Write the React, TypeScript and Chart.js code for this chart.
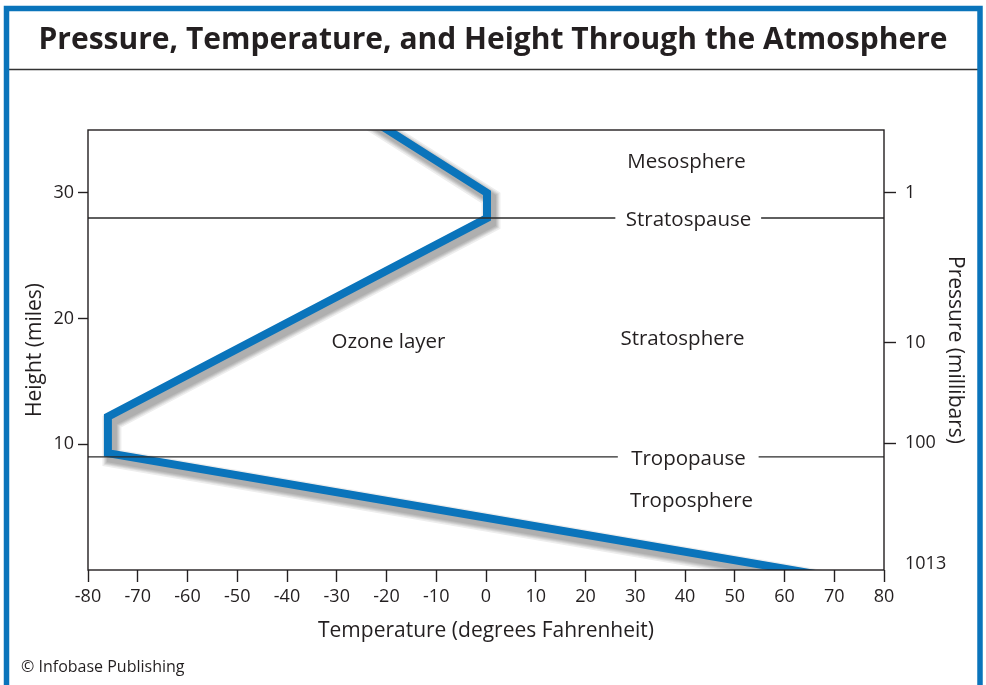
import { useEffect, useRef } from 'react';
import { Chart, registerables } from 'chart.js';

Chart.register(...registerables);

const FONT = "'Open Sans', 'Noto Sans', sans-serif";
const INK = '#231f20';
const BLUE = '#0a74bb';

const TITLE = 'Pressure, Temperature, and Height Through the Atmosphere';
const X_TITLE = 'Temperature (degrees Fahrenheit)';
const Y_TITLE = 'Height (miles)';
const Y2_TITLE = 'Pressure (millibars)';
const CREDIT = '© Infobase Publishing';

// Temperature profile (degrees F) vs height (miles)
const profileTemps = [-23.7, 0.2, 0.2, -76, -76, 68];
const profileHeights = [36, 30, 28.0, 12.2, 9.3, -0.44];

// Left axis ticks (miles)
const heightTicks = [10, 20, 30];

// Right axis: pressure labels and the heights they sit at
const pressureLabels = ['1', '10', '100', '1013'];
const pressureHeights = [30, 18.1, 10.1, 0.45];

// Boundary lines (pauses) with gaps for their labels
const boundaryNames = ['Stratospause', 'Tropopause'];
const boundaryHeights = [28.0, 9.0];
const boundaryGapStart = [26, 26.5];
const boundaryGapEnd = [55.3, 54.8];
const boundaryLabelTemps = [40.7, 40.7];

// Layer labels
const layerNames = ['Mesosphere', 'Ozone layer', 'Stratosphere', 'Troposphere'];
const layerTemps = [40.3, -19.6, 39.5, 41.3];
const layerHeights = [32.6, 18.3, 18.5, 5.65];

const X_MIN = -80;
const X_MAX = 80;
const Y_MIN = 0;
const Y_MAX = 35;

const shadowPlugin = {
  id: 'lineShadow',
  beforeDatasetDraw(chart: any, args: any) {
    const ds = chart.data.datasets[args.index];
    if (!ds || !ds.shadow) return;
    const pts = args.meta.data;
    if (!pts || pts.length < 2) return;
    const ctx = chart.ctx;
    const a = chart.chartArea;
    ctx.save();
    ctx.beginPath();
    ctx.rect(a.left, a.top, a.right - a.left, a.bottom - a.top);
    ctx.clip();
    ctx.lineJoin = 'miter';
    ctx.lineCap = 'butt';
    const widths = [19, 16, 14, 12, 10];
    widths.forEach((w) => {
      ctx.beginPath();
      pts.forEach((p: any, i: number) => {
        if (i === 0) ctx.moveTo(p.x + 4, p.y + 5);
        else ctx.lineTo(p.x + 4, p.y + 5);
      });
      ctx.strokeStyle = 'rgba(0,0,0,0.07)';
      ctx.lineWidth = w;
      ctx.stroke();
    });
    ctx.restore();
  },
};

const decorPlugin = {
  id: 'decor',
  beforeDraw(chart: any) {
    const ctx = chart.ctx;
    ctx.save();
    ctx.fillStyle = '#ffffff';
    ctx.fillRect(0, 0, chart.width, chart.height);
    ctx.restore();
  },
  afterDatasetsDraw(chart: any) {
    const ctx = chart.ctx;
    const xs = chart.scales.x;
    const ys = chart.scales.y;
    ctx.save();
    ctx.fillStyle = INK;
    ctx.font = `20.5px ${FONT}`;
    ctx.textAlign = 'center';
    ctx.textBaseline = 'middle';
    const dy = 2;
    layerNames.forEach((n, i) => {
      ctx.fillText(n, xs.getPixelForValue(layerTemps[i]), ys.getPixelForValue(layerHeights[i]) + dy);
    });
    boundaryNames.forEach((n, i) => {
      ctx.fillText(n, xs.getPixelForValue(boundaryLabelTemps[i]), ys.getPixelForValue(boundaryHeights[i]) + dy);
    });
    ctx.restore();
  },
  afterDraw(chart: any) {
    const ctx = chart.ctx;
    const a = chart.chartArea;
    ctx.save();
    // plot frame
    ctx.strokeStyle = INK;
    ctx.lineWidth = 1.4;
    ctx.strokeRect(a.left, a.top, a.right - a.left, a.bottom - a.top);
    // title separator
    ctx.lineWidth = 1.6;
    ctx.strokeStyle = '#333';
    ctx.beginPath();
    ctx.moveTo(9, 69.5);
    ctx.lineTo(978, 69.5);
    ctx.stroke();
    // blue outer frame
    ctx.strokeStyle = BLUE;
    ctx.lineWidth = 5.5;
    ctx.strokeRect(6.5, 8.5, 973.5, chart.height + 20);
    // credit
    ctx.fillStyle = INK;
    ctx.font = `16px ${FONT}`;
    ctx.textAlign = 'left';
    ctx.textBaseline = 'middle';
    ctx.fillText(CREDIT, 21, 667);
    ctx.restore();
  },
};

function buildDatasets() {
  const profile = {
    label: 'Temperature',
    data: profileTemps.map((t, i) => ({ x: t, y: profileHeights[i] })),
    borderColor: BLUE,
    borderWidth: 8,
    borderJoinStyle: 'miter',
    borderCapStyle: 'butt',
    pointRadius: 0,
    tension: 0,
    clip: 0,
    order: 2,
    shadow: true,
  };
  const bounds = boundaryNames.map((n, i) => ({
    label: n,
    data: [
      { x: X_MIN, y: boundaryHeights[i] },
      { x: boundaryGapStart[i], y: boundaryHeights[i] },
      { x: (boundaryGapStart[i] + boundaryGapEnd[i]) / 2, y: null },
      { x: boundaryGapEnd[i], y: boundaryHeights[i] },
      { x: X_MAX, y: boundaryHeights[i] },
    ],
    borderColor: '#2b2b2b',
    borderWidth: 1.4,
    pointRadius: 0,
    tension: 0,
    spanGaps: false,
    order: 1,
  }));
  return [profile, ...bounds];
}

export default function App() {
  const ref = useRef<HTMLCanvasElement | null>(null);

  useEffect(() => {
    document.body.style.margin = '0';
    const canvas = ref.current;
    if (!canvas) return;
    const chart = new Chart(canvas, {
      type: 'line',
      data: { datasets: buildDatasets() as any },
      plugins: [shadowPlugin, decorPlugin],
      options: {
        animation: false,
        responsive: false,
        maintainAspectRatio: false,
        layout: { padding: 0 },
        plugins: {
          legend: { display: false },
          tooltip: { enabled: false },
          title: {
            display: true,
            text: TITLE,
            color: INK,
            font: { family: FONT, size: 30, weight: 'bold' },
            padding: { top: 22, bottom: 72 },
          },
        },
        scales: {
          x: {
            type: 'linear',
            min: X_MIN,
            max: X_MAX,
            border: { display: false },
            grid: { drawOnChartArea: false, tickLength: 12, tickColor: INK, tickWidth: 1.4 },
            ticks: { stepSize: 10, color: INK, font: { family: FONT, size: 18 }, padding: 4 },
            title: {
              display: true,
              text: X_TITLE,
              color: INK,
              font: { family: FONT, size: 21 },
              padding: { top: 0, bottom: 41 },
            },
            afterFit(s: any) { s.height = 115; },
          },
          y: {
            type: 'linear',
            position: 'left',
            min: Y_MIN,
            max: Y_MAX,
            border: { display: false },
            grid: { drawOnChartArea: false, tickLength: 10, tickColor: INK, tickWidth: 1.4 },
            ticks: { color: INK, font: { family: FONT, size: 18 }, padding: 4 },
            afterBuildTicks(s: any) { s.ticks = heightTicks.map((v) => ({ value: v })); },
            title: {
              display: true,
              text: Y_TITLE,
              color: INK,
              font: { family: FONT, size: 21 },
              padding: { top: 22, bottom: 0 },
            },
            afterFit(s: any) { s.width = 88; },
          },
          y2: {
            type: 'linear',
            position: 'right',
            min: Y_MIN,
            max: Y_MAX,
            border: { display: false },
            grid: {
              drawOnChartArea: false,
              tickLength: 12,
              tickWidth: 1.4,
              tickColor: (c: any) => (c.tick && c.tick.value < 1 ? 'rgba(0,0,0,0)' : INK),
            },
            ticks: {
              color: INK,
              font: { family: FONT, size: 18 },
              padding: 9,
              callback: (_v: any, i: number) => pressureLabels[i],
            },
            afterBuildTicks(s: any) { s.ticks = pressureHeights.map((v) => ({ value: v })); },
            title: {
              display: true,
              text: Y2_TITLE,
              color: INK,
              font: { family: FONT, size: 21 },
              padding: { top: 18, bottom: 0 },
            },
            afterFit(s: any) { s.width = 102; },
          },
        },
      } as any,
    });
    return () => chart.destroy();
  }, []);

  return (
    <div style={{ position: 'absolute', left: 0, top: 0, width: 986, height: 685 }}>
      <canvas ref={ref} width={986} height={685} style={{ width: 986, height: 685, display: 'block' }} />
    </div>
  );
}
